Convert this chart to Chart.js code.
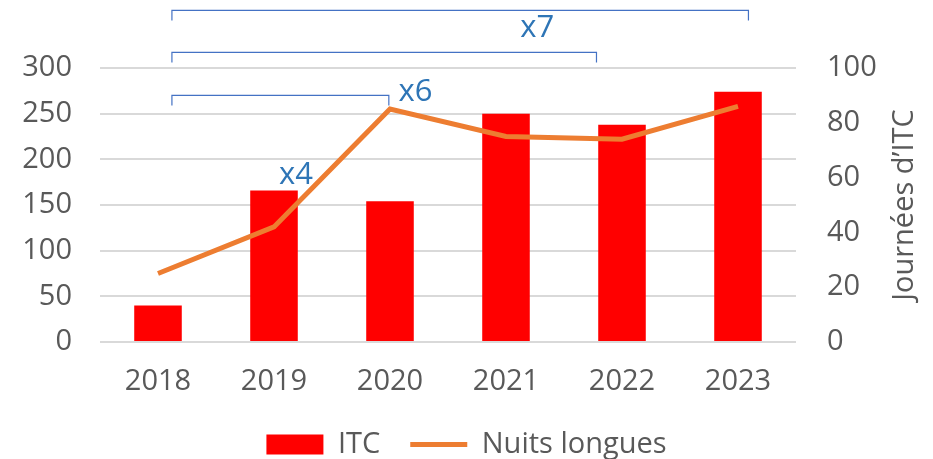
<!DOCTYPE html>
<html lang="fr">
<head>
<meta charset="UTF-8">
<title>ITC et nuits longues</title>
<script src="https://cdn.jsdelivr.net/npm/chart.js"></script>
<style>
  body { margin: 0; background: #fff; }
  #wrap { width: 933px; height: 459px; }
</style>
</head>
<body>
<div id="wrap"><canvas id="chart" width="933" height="459"></canvas></div>
<script>
// data
const years = ['2018', '2019', '2020', '2021', '2022', '2023'];
const itc = [40, 166, 154, 250, 238, 274];
const nuitsLongues = [25, 42, 85, 75, 74, 86];

// brackets above the bars: from / to (category index), level on left axis
const bracketFrom = [0.12, 0.12, 0.12];
const bracketTo = [1.99, 3.78, 5.09];
const bracketLevel = [270, 317, 363];

// ratio labels: text, category index, left-axis value
const ratioText = ['x4', 'x6', 'x7'];
const ratioX = [1.19, 2.22, 3.27];
const ratioY = [183, 274, 344];

const rightTitle = 'Journées d’ITC';

const FONT = "'Open Sans', sans-serif";
const SIZE = 29;
const grey = '#595959';
const blue = '#2E75B6';

const bracketPlugin = {
  id: 'brackets',
  afterDatasetsDraw(chart) {
    const ctx = chart.ctx;
    const x = chart.scales.x, y = chart.scales.y, y2 = chart.scales.y2;
    ctx.save();
    ctx.strokeStyle = '#4472C4';
    ctx.lineWidth = 1.2;
    for (let i = 0; i < bracketFrom.length; i++) {
      const x0 = x.getPixelForValue(bracketFrom[i]);
      const x1 = x.getPixelForValue(bracketTo[i]);
      const yy = y.getPixelForValue(bracketLevel[i]);
      ctx.beginPath();
      ctx.moveTo(x0, yy + 10);
      ctx.lineTo(x0, yy);
      ctx.lineTo(x1, yy);
      ctx.lineTo(x1, yy + 10);
      ctx.stroke();
    }
    ctx.fillStyle = blue;
    ctx.font = (SIZE + 2) + 'px ' + FONT;
    ctx.textAlign = 'center';
    ctx.textBaseline = 'middle';
    for (let i = 0; i < ratioText.length; i++) {
      ctx.fillText(ratioText[i], x.getPixelForValue(ratioX[i]), y.getPixelForValue(ratioY[i]));
    }
    // right axis title, reading bottom to top
    ctx.fillStyle = grey;
    ctx.font = SIZE + 'px ' + FONT;
    ctx.translate(y2.right - 28, (chart.chartArea.top + chart.chartArea.bottom) / 2);
    ctx.rotate(-Math.PI / 2);
    ctx.fillText(rightTitle, 0, 0);
    ctx.restore();
  }
};

new Chart(document.getElementById('chart'), {
  type: 'bar',
  data: {
    labels: years,
    datasets: [
      {
        type: 'line',
        label: 'Nuits longues',
        data: nuitsLongues,
        yAxisID: 'y2',
        borderColor: '#ED7D31',
        backgroundColor: '#ED7D31',
        borderWidth: 5,
        pointRadius: 0,
        pointStyle: 'line',
        tension: 0,
        order: 0
      },
      {
        label: 'ITC',
        data: itc,
        yAxisID: 'y',
        backgroundColor: '#FF0000',
        borderWidth: 0,
        pointStyle: 'rect',
        barPercentage: 0.41,
        categoryPercentage: 1,
        order: 1
      }
    ]
  },
  options: {
    responsive: false,
    animation: false,
    layout: { padding: { top: 68, left: 0, right: 0, bottom: -10 } },
    plugins: {
      legend: {
        position: 'bottom',
        reverse: true,
        labels: {
          usePointStyle: true,
          pointStyleWidth: 57,
          boxHeight: 20,
          color: grey,
          font: { family: FONT, size: SIZE },
          padding: 30
        }
      },
      tooltip: { enabled: false }
    },
    scales: {
      x: {
        grid: { display: false },
        border: { display: false },
        ticks: { color: grey, font: { family: FONT, size: SIZE }, padding: 14 },
        afterFit(s) { s.height = 58; }
      },
      y: {
        position: 'left',
        min: 0, max: 300,
        ticks: { stepSize: 50, color: grey, font: { family: FONT, size: SIZE }, padding: 28 },
        grid: { color: '#D9D9D9', lineWidth: 2, drawTicks: false },
        border: { display: false },
        afterFit(s) { s.width = 100; }
      },
      y2: {
        position: 'right',
        min: 0, max: 100,
        ticks: { stepSize: 20, color: grey, font: { family: FONT, size: SIZE }, padding: 31 },
        grid: { display: false, drawTicks: false },
        border: { display: false },
        afterFit(s) { s.width = 137; }
      }
    }
  },
  plugins: [bracketPlugin]
});
</script>
</body>
</html>
